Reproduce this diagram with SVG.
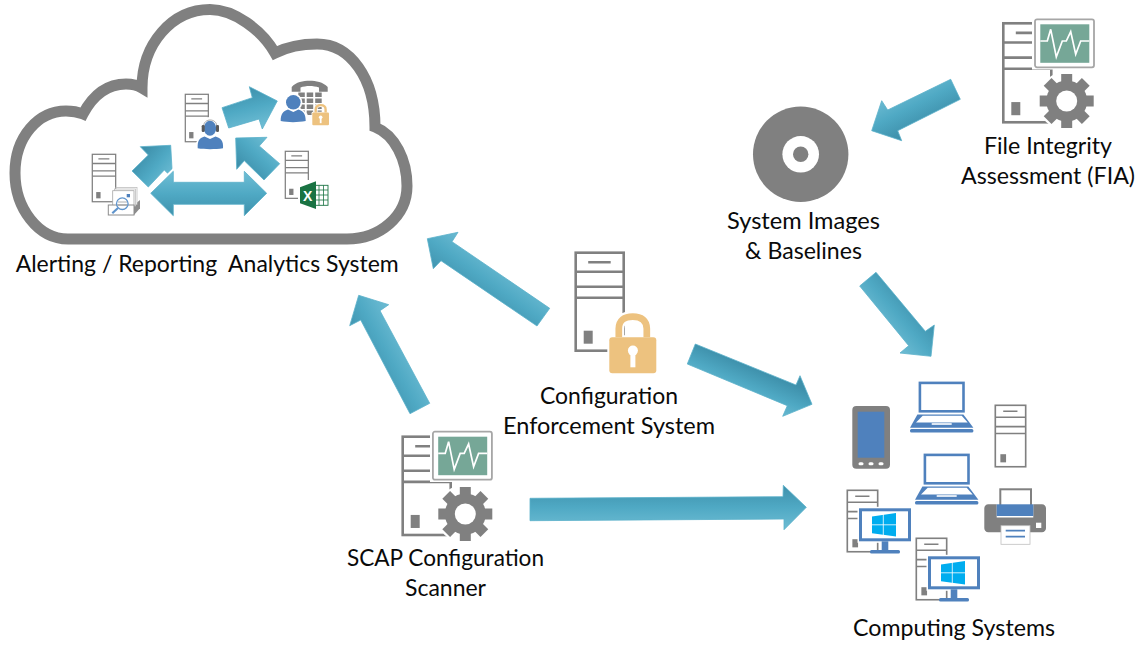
<svg xmlns="http://www.w3.org/2000/svg" width="1141" height="646" viewBox="0 0 1141 646">
<style>
.lbl{font-family:"Lato","Open Sans","Liberation Sans",sans-serif;font-size:23px;fill:#0a0a0a}
.arr{stroke:#5cb1ca;stroke-width:.8;stroke-linejoin:miter}
.srv{fill:#fff;stroke:#808080;stroke-width:2.6}
.g{fill:#808080}
.b{fill:#4f81bd}
.bl{fill:none;stroke:#4f81bd}
.gold{fill:#edc27f}
</style>
<defs>
<linearGradient id="ag"><stop offset="0" stop-color="#3e90ab"/><stop offset=".5" stop-color="#4fa9c4"/><stop offset="1" stop-color="#6fbdd4"/></linearGradient>
<linearGradient id="a1" href="#ag" gradientUnits="userSpaceOnUse" x1="0" y1="485" x2="0" y2="530"/>
<linearGradient id="a2" href="#ag" gradientUnits="userSpaceOnUse" x1="760" y1="370" x2="745" y2="405"/>
<linearGradient id="a3" href="#ag" gradientUnits="userSpaceOnUse" x1="915" y1="300" x2="880" y2="330"/>
<linearGradient id="a4" href="#ag" gradientUnits="userSpaceOnUse" x1="470" y1="300" x2="500" y2="258"/>
<linearGradient id="a5" href="#ag" gradientUnits="userSpaceOnUse" x1="370" y1="375" x2="415" y2="350"/>
<linearGradient id="a6" href="#ag" gradientUnits="userSpaceOnUse" x1="925" y1="125" x2="905" y2="85"/>
<linearGradient id="a7" href="#ag" gradientUnits="userSpaceOnUse" x1="245" y1="88" x2="255" y2="128"/>
<linearGradient id="a8" href="#ag" gradientUnits="userSpaceOnUse" x1="243" y1="170" x2="272" y2="140"/>
<linearGradient id="a9" href="#ag" gradientUnits="userSpaceOnUse" x1="140" y1="155" x2="170" y2="180"/>
<linearGradient id="a10" href="#ag" gradientUnits="userSpaceOnUse" x1="0" y1="216" x2="0" y2="172"/>
<g id="server">
<rect class="srv" x="0" y="0" width="48" height="98"/>
<path d="M0 19H48M0 34H48M0 45H48M12.500 9.500H35" fill="none" stroke="#808080" stroke-width="2.600"/>
<rect class="g" x="8" y="78" width="9" height="13"/>
</g>
<g id="monitor">
<rect x="0" y="0" width="59" height="48" rx="2" fill="#fff" stroke="#a6a6a6" stroke-width="1.800"/>
<rect x="5.300" y="5" width="49" height="38.500" fill="#76a797"/>
<polyline points="5.300,21.700 12.300,21.700 15.700,10 21.300,37.700 27.300,21.700 31.300,21.700 35.700,12.300 40.700,35 45.700,21.700 54.300,21.700" fill="none" stroke="#fff" stroke-width="1.700"/>
</g>
<g id="gear">
<circle r="29.500" fill="#fff"/>
<circle r="20.500" class="g"/>
<g class="g">
<rect x="-5.500" y="-27" width="11" height="54"/>
<rect x="-5.500" y="-27" width="11" height="54" transform="rotate(45)"/>
<rect x="-5.500" y="-27" width="11" height="54" transform="rotate(90)"/>
<rect x="-5.500" y="-27" width="11" height="54" transform="rotate(135)"/>
</g>
<circle r="10.500" fill="#fff"/>
</g>
<g id="lock">
<path d="M9.500 24V15.500C9.500 7 15 3.300 23.500 3.300S37.500 7 37.500 15.500V24" fill="none" stroke="#fff" stroke-width="11"/>
<rect x="-2" y="22" width="51" height="40" rx="4" fill="#fff"/>
<path d="M9.500 24V15.500C9.500 7 15 3.300 23.500 3.300S37.500 7 37.500 15.500V24" fill="none" stroke="#edc27f" stroke-width="6.700"/>
<rect class="gold" x="0" y="24" width="47" height="36" rx="3"/>
<circle cx="23.600" cy="37.300" r="5" fill="#fff"/>
<rect x="21.100" y="38" width="5" height="16" fill="#fff"/>
</g>
<g id="laptop">
<rect class="bl" x="1.200" y="1.200" width="43.600" height="28.400" stroke-width="2.600"/>
<path class="b" d="M-1.300 32.700H44.700L54.700 46H-8.700Z"/>
<path fill="#fff" d="M4 34H43L49 40.700H-2.700Z"/>
<rect x="13" y="41.500" width="20" height="1.600" fill="#fff"/>
<rect class="b" x="-8.700" y="47.300" width="63.400" height="3.400" rx="1.500"/>
</g>
<g id="winmon">
<rect x="-1.500" y="-1.500" width="55" height="36" fill="#fff"/>
<rect x="1.500" y="1.500" width="49" height="30" fill="#fff" stroke="#4f81bd" stroke-width="3"/>
<rect class="b" x="22.700" y="33" width="6.600" height="9"/>
<rect class="b" x="11" y="41.700" width="30" height="3.600" rx="1.500"/>
<path fill="#00adef" d="M13 8.300L37 4.700V28.300L13 25Z"/>
<path d="M24.300 5V29M13 16.500H37" stroke="#fff" stroke-width=".8" fill="none"/>
</g>
</defs>

<g id="cloud-system">
<path d="M68 239C38 239 15 208 15 173C15 137 38 111 66 111C72 111 78 112 83 114C92 97 106 84 126 84C132 84 137 85 142 88C142 44 172 9.500 210 9.500C234 9.500 262 30 275 53C287 47 300 44 317 44C350 44 375 78 375 127C395 135 407 160 407 186C407 216 380 239 347 239Z" fill="#fff" stroke="#808080" stroke-width="11"/>
<text class="lbl" x="15.700" y="271.500" textLength="383" lengthAdjust="spacingAndGlyphs" xml:space="preserve">Alerting / Reporting  Analytics System</text>
</g>

<g id="connectors">
<polygon class="arr" fill="url(#a1)" points="530,498.300 783,496.700 783.300,485.300 806.300,507.300 784,529.700 784,519 530,520.700"/>
<polygon class="arr" fill="url(#a2)" points="695.300,344 796,385 800,375.700 812,404.300 782.700,416.300 787.300,405.700 687.300,364"/>
<polygon class="arr" fill="url(#a3)" points="876,272.300 925.300,331.300 934.300,325 931,356.300 900,353 908.700,345.700 859.700,286"/>
<polygon class="arr" fill="url(#a4)" points="549.700,308.300 452,241.700 458,232.300 427.300,238.700 433.300,268.700 441,260.700 537,326"/>
<polygon class="arr" fill="url(#a5)" points="429.700,403.300 380,310.700 388.700,304.700 358.700,295.300 349.700,325.700 360.700,320 410,413.700"/>
<polygon class="arr" fill="url(#a6)" points="950.700,79.300 887.700,110 881.700,100.700 871.700,130.700 901.700,140.700 897.700,130.700 960.300,99.300"/>
<polygon class="arr" fill="url(#a7)" points="222,107.700 252.300,97.700 249.300,86.700 277.300,101 262.300,129 259,119 228.700,128"/>
<polygon class="arr" fill="url(#a8)" points="279.700,163.700 259.300,146 267,137.300 235.700,138 236.700,169.300 244.300,160.700 264,180"/>
<polygon class="arr" fill="url(#a9)" points="132,171 148.300,155 140.300,146.700 170.700,145.300 172.500,178 164.300,170 148.300,187"/>
<polygon fill="#fff" stroke="#fff" stroke-width="5" points="150.700,193.300 173.300,171.300 173.300,182.300 244.300,182.300 244.300,171.300 266.700,193.300 244.300,215.700 244.300,204.300 173.300,204.300 173.300,215.700"/>
<polygon class="arr" fill="url(#a10)" points="150.700,193.300 173.300,171.300 173.300,182.300 244.300,182.300 244.300,171.300 266.700,193.300 244.300,215.700 244.300,204.300 173.300,204.300 173.300,215.700"/>
</g>

<g id="scan-server">
<use href="#server" transform="translate(92.300 154.300) scale(.487 .484)"/>
<path d="M134 205L140 200V208.300L134 215Z" fill="#8c8c8c"/>
<rect x="116" y="187.500" width="21" height="17" fill="#fff" stroke="#bfbfbf" stroke-width=".8"/>
<rect x="114.500" y="189" width="21" height="17" fill="#fff" stroke="#bfbfbf" stroke-width=".8"/>
<rect x="112.700" y="190.700" width="21.300" height="16" fill="#fff" stroke="#a6a6a6" stroke-width=".8"/>
<rect class="b" x="126.700" y="194" width="3.300" height="3.300"/>
<rect x="108.300" y="205" width="25.700" height="10" fill="#fff" stroke="#8c8c8c" stroke-width="1"/>
<path d="M118 202H127M118 205H127" stroke="#999" stroke-width=".8"/>
<circle cx="122.300" cy="203.700" r="5.800" fill="none" stroke="#5f94cc" stroke-width="1.300"/>
<path d="M118 208L112.300 213.300" stroke="#5f94cc" stroke-width="2.200"/>
</g>

<g id="headset-server">
<use href="#server" transform="translate(185.300 94.300) scale(.48 .484)"/>
<path d="M196 150C196 140 202 134 210 134C218 134 225 140 225 150Z" fill="#fff" stroke="#fff" stroke-width="2"/>
<circle cx="210" cy="128" r="11" fill="#fff"/>
<ellipse class="b" cx="210" cy="128.300" rx="6.200" ry="7.500"/>
<path class="b" d="M197.700 148.300C197.500 141 199 138 204.500 136.500L210 139L215.500 136.500C221 138 223.500 141 223 148.300C215 149.500 205 149.500 197.700 148.300Z"/>
<path d="M203.700 130V126C203.700 118 216.700 118 216.700 126V130" fill="none" stroke="#a6a6a6" stroke-width="1"/>
<rect x="201.700" y="125" width="3" height="7" rx="1.300" fill="#595959"/>
<rect x="216" y="125" width="3" height="7" rx="1.300" fill="#595959"/>
</g>

<g id="phone-system">
<path class="g" d="M291.700 91.700V87C296 82 303 80.700 309.700 80.700C316 80.700 323 82 327.700 87V91.700H319V87.500C313 85.500 306 85.500 300.500 87.500V91.700Z"/>
<g class="g">
<rect x="298.300" y="92.500" width="6.500" height="4.500"/><rect x="306.700" y="92.500" width="6.500" height="4.500"/><rect x="315.200" y="92.500" width="6.500" height="4.500"/>
<rect x="298.300" y="98.500" width="6.500" height="4.500"/><rect x="306.700" y="98.500" width="6.500" height="4.500"/><rect x="315.200" y="98.500" width="6.500" height="4.500"/>
<rect x="298.300" y="104.500" width="6.500" height="4.500"/><rect x="306.700" y="104.500" width="6.500" height="4.500"/><rect x="315.200" y="104.500" width="6.500" height="4.500"/>
<rect x="298.300" y="110.500" width="6.500" height="4.500"/><rect x="306.700" y="110.500" width="6.500" height="4.500"/><rect x="315.200" y="110.500" width="6.500" height="4.500"/>
</g>
<circle cx="293.300" cy="102.300" r="9" fill="#fff"/>
<path d="M279 123V114L288 107H299L307.500 114V123Z" fill="#fff"/>
<circle class="b" cx="293.300" cy="102.300" r="7.300"/>
<path class="b" d="M280.700 121C280.700 114 283 111 288 109.500L293.300 112L298.500 109.500C303.500 111 305.700 114 305.700 121C298 122.500 288 122.500 280.700 121Z"/>
<use href="#lock" transform="translate(312.300 104) scale(.355)"/>
</g>

<g id="excel-server">
<use href="#server" transform="translate(285.300 151.300) scale(.48 .48)"/>
<rect x="298" y="180" width="32" height="30" fill="#fff"/>
<rect x="315" y="185.300" width="13" height="20" fill="#fff" stroke="#1a7343" stroke-width=".9"/>
<path d="M319 185.300V205.300M323.500 185.300V205.300M315 190H328M315 195H328M315 200H328" stroke="#1a7343" stroke-width=".8"/>
<polygon points="300,187.300 316,181.300 316,209 300,203.300" fill="#1a7343"/>
<text x="307.700" y="200.800" font-family="Liberation Sans,sans-serif" font-weight="700" font-size="14" fill="#fff" text-anchor="middle">X</text>
</g>

<g id="enforcement">
<use href="#server" transform="translate(575.700 252.700)"/>
<use href="#lock" transform="translate(609.300 313.300)"/>
<text class="lbl" x="540" y="404" textLength="138" lengthAdjust="spacingAndGlyphs">Configuration</text>
<text class="lbl" x="503" y="434" textLength="212" lengthAdjust="spacingAndGlyphs">Enforcement System</text>
</g>

<g id="scap-scanner">
<use href="#server" transform="translate(402.700 436.700) scale(1 1.003)"/>
<rect x="430" y="429" width="65" height="53" fill="#fff"/>
<use href="#monitor" transform="translate(432.900 431.700)"/>
<use href="#gear" transform="translate(465.300 514)"/>
<text class="lbl" x="347" y="566" textLength="197" lengthAdjust="spacingAndGlyphs">SCAP Configuration</text>
<text class="lbl" x="405" y="596" textLength="81" lengthAdjust="spacingAndGlyphs">Scanner</text>
</g>

<g id="fia">
<use href="#server" transform="translate(1003.300 23.300) scale(1 1.01)"/>
<rect x="1032" y="16.500" width="65" height="53" fill="#fff"/>
<use href="#monitor" transform="translate(1035 19.300)"/>
<use href="#gear" transform="translate(1066.700 101)"/>
<text class="lbl" x="984" y="153.500" textLength="128" lengthAdjust="spacingAndGlyphs">File Integrity</text>
<text class="lbl" x="961" y="184" textLength="174" lengthAdjust="spacingAndGlyphs">Assessment (FIA)</text>
</g>

<g id="images">
<circle class="g" cx="800.700" cy="154.300" r="47.700"/>
<circle cx="800.700" cy="154.300" r="18.300" fill="#fff"/>
<circle class="g" cx="800.700" cy="154.300" r="7.700"/>
<text class="lbl" x="727" y="228.500" textLength="153" lengthAdjust="spacingAndGlyphs">System Images</text>
<text class="lbl" x="745" y="259" textLength="117" lengthAdjust="spacingAndGlyphs">&amp; Baselines</text>
</g>

<g id="computing-systems">
<g id="tablet">
<rect class="g" x="852.300" y="406" width="37.700" height="62.700" rx="4"/>
<rect class="b" x="857.700" y="411.700" width="26.600" height="46"/>
<g fill="#fff"><rect x="858.500" y="462.200" width="5" height="3" rx="1.500"/><rect x="868.500" y="462.200" width="5" height="3" rx="1.500"/><rect x="878.500" y="462.200" width="5" height="3" rx="1.500"/></g>
</g>
<use href="#laptop" transform="translate(918.700 381.700)"/>
<use href="#server" transform="translate(995.300 405.300) scale(.633 .627)"/>
<use href="#laptop" transform="translate(923.700 453.700)"/>
<g id="printer">
<rect x="1000.300" y="489.300" width="30.700" height="20" fill="#fff" stroke="#808080" stroke-width="2"/>
<path class="g" d="M988.300 504.300H996.700V517.500H1033.300V504.300H1042C1044.300 504.300 1046 506 1046 508.300V528.300C1046 530.500 1044.300 532.300 1042 532.300H988.300C986 532.300 984.300 530.500 984.300 528.300V508.300C984.300 506 986 504.300 988.300 504.300Z"/>
<rect class="b" x="996.700" y="504.300" width="36.600" height="11.700"/>
<rect x="1036" y="522.700" width="5.300" height="5.300" fill="#fff"/>
<rect x="1001" y="525.700" width="29" height="18.600" fill="#fff" stroke="#bfbfbf" stroke-width=".8"/>
<path d="M1005.700 530.700H1025M1005.700 536.700H1025" stroke="#4f81bd" stroke-width="1.700"/>
</g>
<use href="#server" transform="translate(847.300 490.300) scale(.633 .627)"/>
<use href="#winmon" transform="translate(859 508.300)"/>
<use href="#server" transform="translate(916.300 538.300) scale(.633 .627)"/>
<use href="#winmon" transform="translate(928 556.300)"/>
<text class="lbl" x="853" y="636" textLength="202" lengthAdjust="spacingAndGlyphs">Computing Systems</text>
</g>
</svg>
